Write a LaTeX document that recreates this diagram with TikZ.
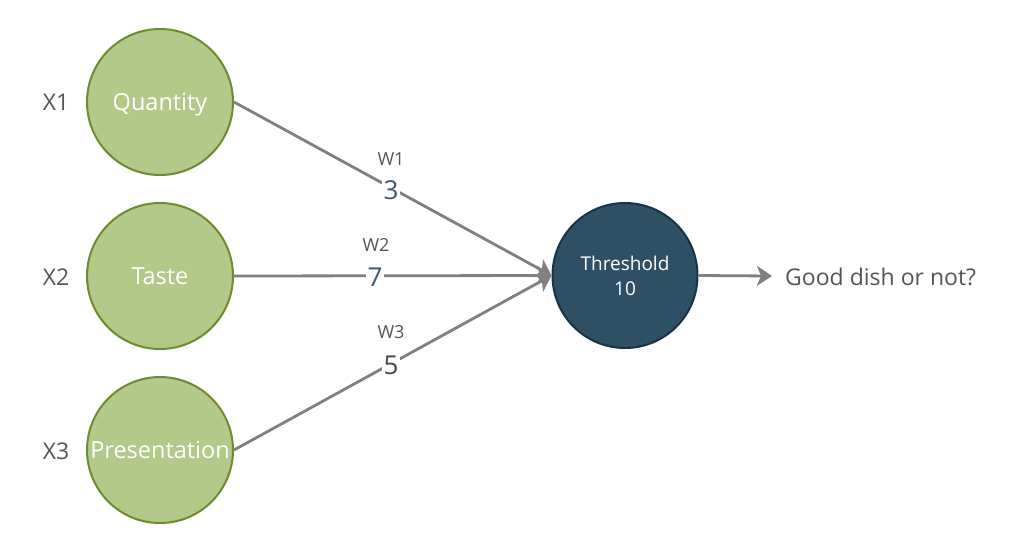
\documentclass[tikz,border=0pt]{standalone}
\usepackage{fontspec}
\setmainfont{Open Sans}
\usetikzlibrary{arrows.meta}
\definecolor{gfill}{HTML}{B2C98A}
\definecolor{gdraw}{HTML}{6D8B2F}
\definecolor{tfill}{HTML}{2F5064}
\definecolor{tdraw}{HTML}{163348}
\definecolor{edge}{HTML}{808080}
\definecolor{txt}{HTML}{555555}
\definecolor{num}{HTML}{3E5570}
\tikzset{
  inbox/.style={circle, draw=gdraw, line width=2pt, fill=gfill, minimum size=146pt, inner sep=0pt, text=white, text depth=0pt, font=\fontsize{23.5}{26}\selectfont},
  thbox/.style={circle, draw=tdraw, line width=2pt, fill=tfill, minimum size=145pt, inner sep=0pt, text=white, font=\fontsize{19}{25}\selectfont, align=center},
  xlab/.style={text=txt, font=\fontsize{23}{26}\selectfont},
  wlab/.style={text=txt, font=\fontsize{18}{20}\selectfont},
  nlab/.style={fill=white, inner sep=2pt, font=\fontsize{26}{28}\selectfont},
  conn/.style={draw=edge, line width=2.8pt, -{Stealth[length=15pt,width=20pt,inset=4pt]}},
}
\begin{document}
\begin{tikzpicture}[x=1pt,y=-1pt]
\useasboundingbox (0,0) rectangle (1024,552);
\node[inbox] (q) at (160,102) {Quantity};
\node[inbox] (ta) at (160,276) {Taste};
\node[inbox] (p) at (160,450) {Presentation};
\node[thbox] (th) at (625,275.5) {Threshold\\10};
\node[xlab] (x1) at (56,102) {X1};
\node[xlab] (x2) at (56,277) {X2};
\node[xlab] (x3) at (56,451) {X3};
\node[text=txt, font=\fontsize{23}{26}\selectfont, anchor=west, inner sep=0pt] (out) at (785,277) {Good dish or not?};
\coordinate (tip) at (th.west);
\coordinate (otip) at (772,276);
\draw[conn] (q.east) -- (tip);
\draw[conn] (ta.east) -- (tip);
\draw[conn] (p.east) -- (tip);
\draw[conn] (th.east) -- (otip);
\node[nlab, text=num] (n1) at (391,190) {3};
\node[nlab, text=num] (n2) at (375,277) {7};
\node[nlab, text=txt!80!black] (n3) at (391,365) {5};
\node[wlab] (w1) at (391,159) {W1};
\node[wlab] (w2) at (376,245) {W2};
\node[wlab] (w3) at (391,332) {W3};
\end{tikzpicture}
\end{document}
